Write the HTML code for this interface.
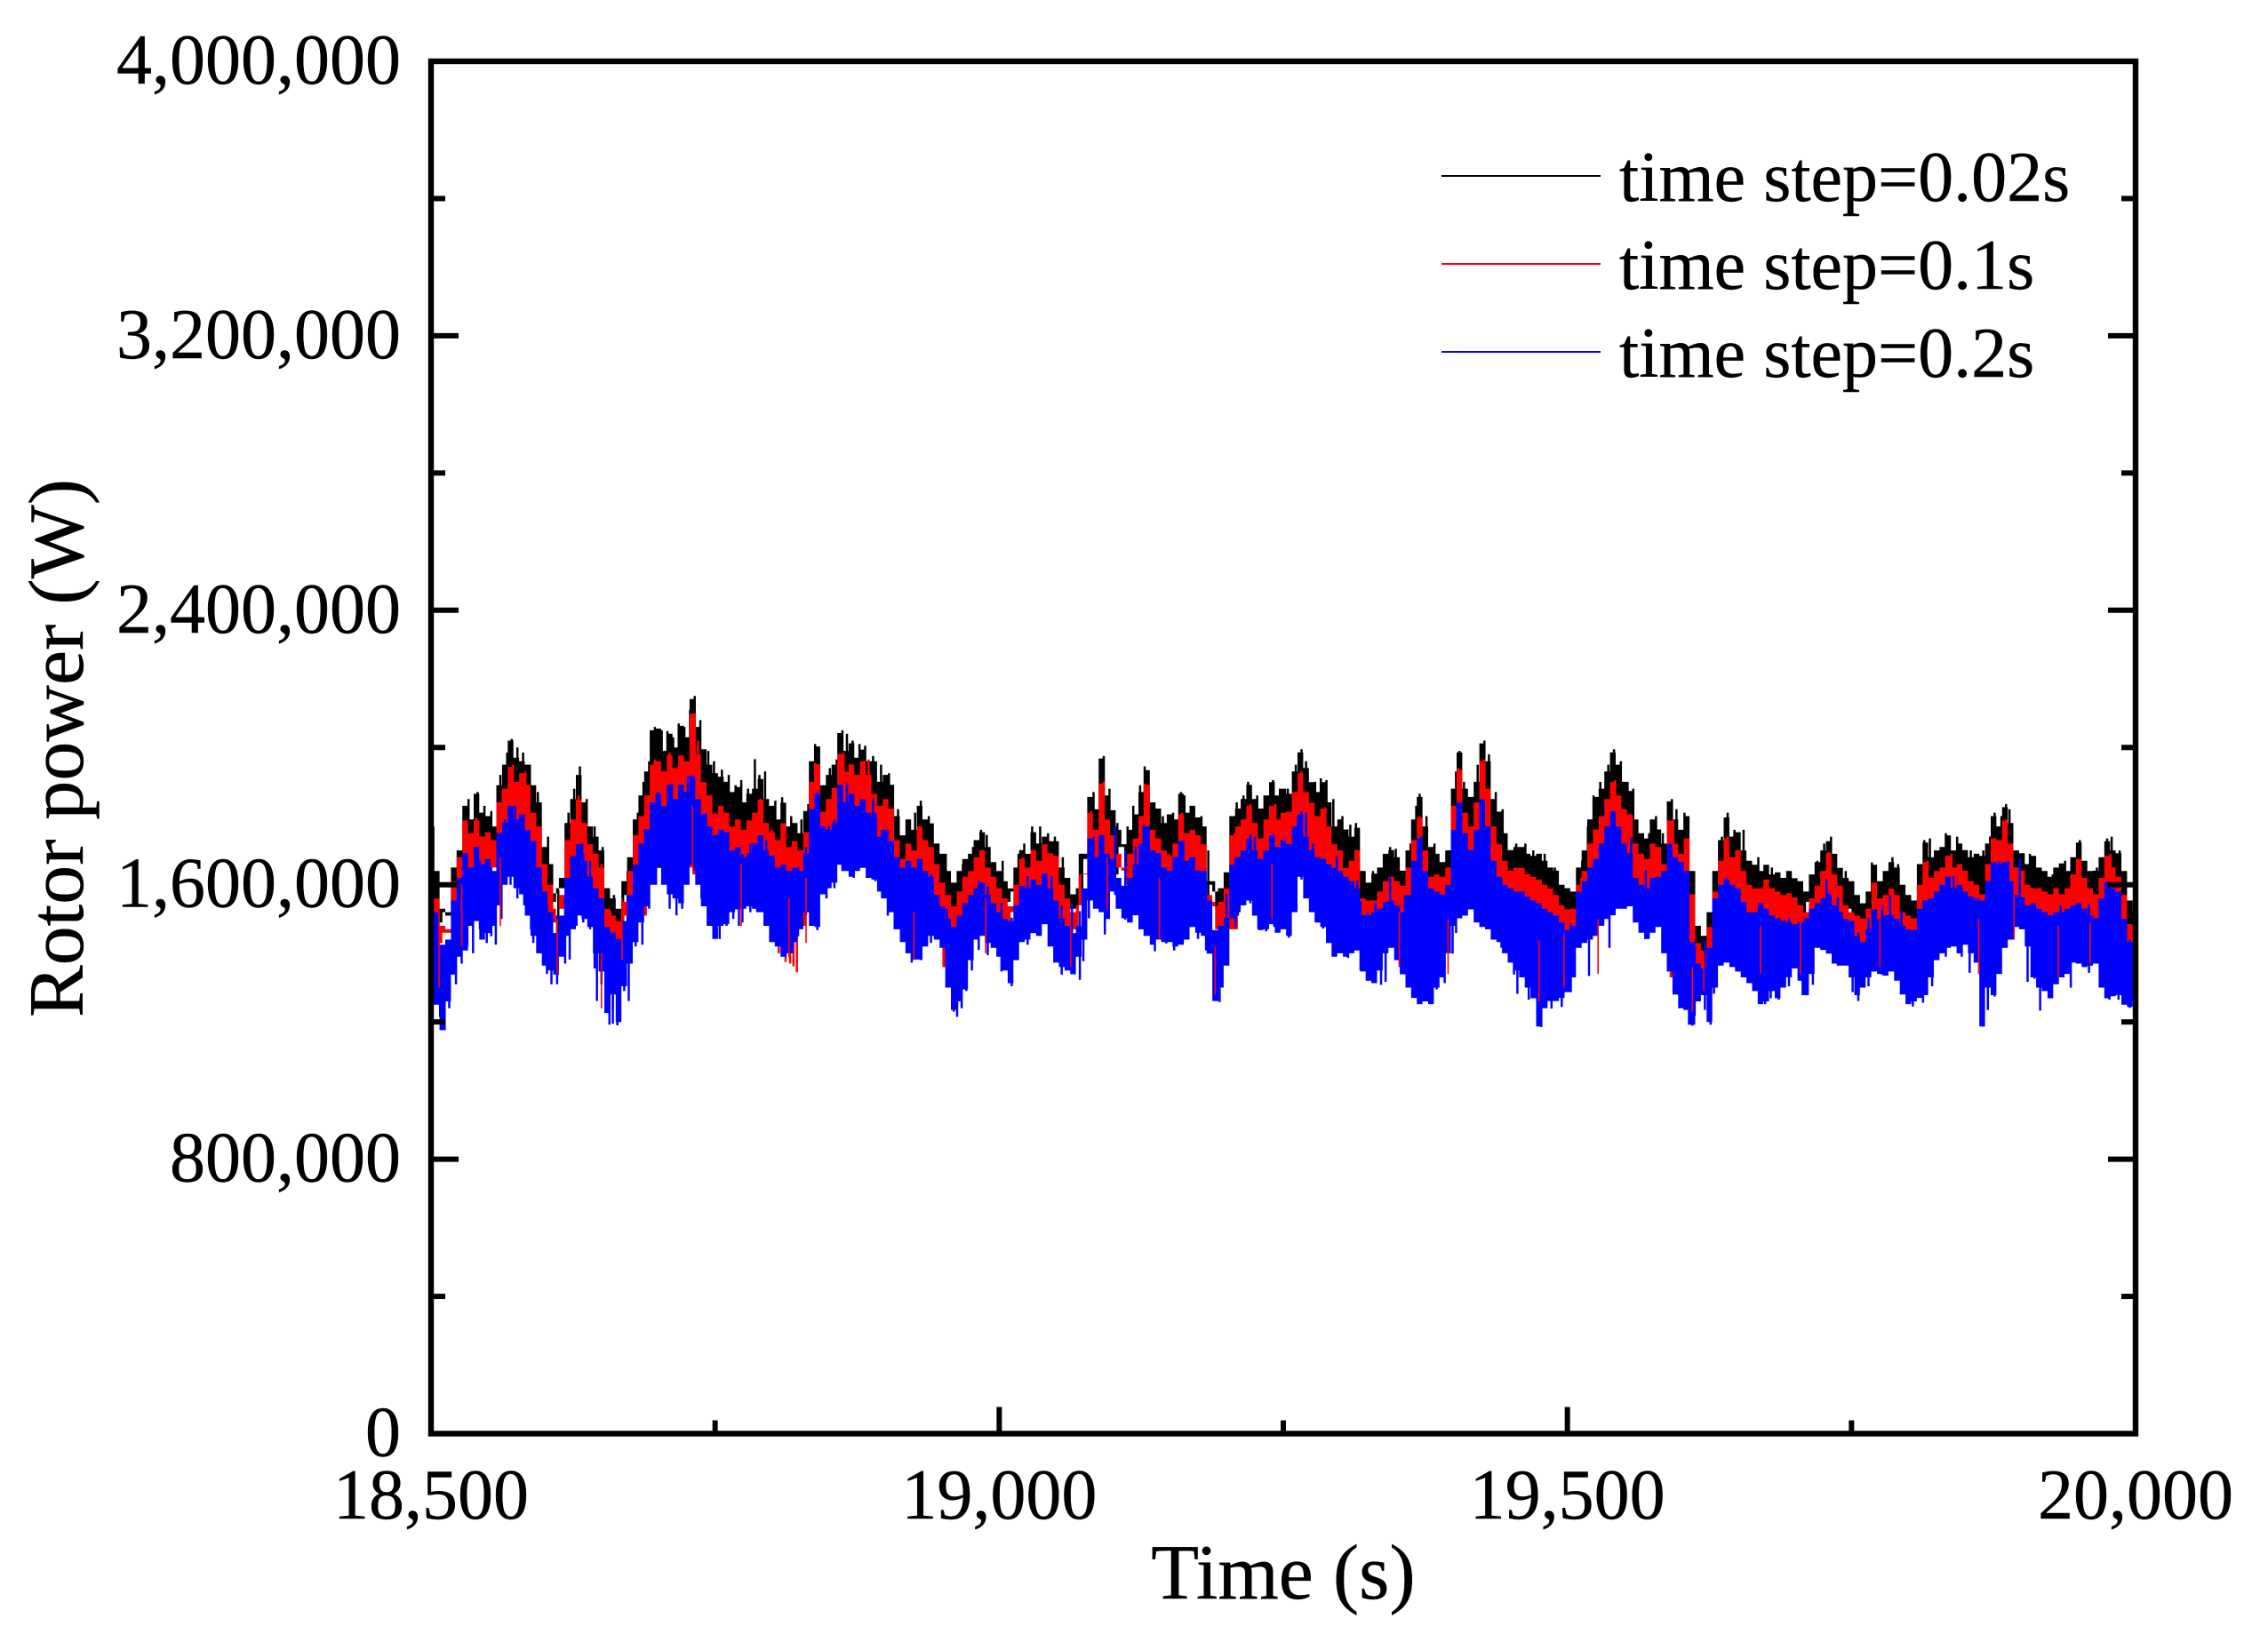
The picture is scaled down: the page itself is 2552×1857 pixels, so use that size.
<!DOCTYPE html>
<html lang="en">
<head>
<meta charset="utf-8">
<title>Rotor power vs time</title>
<style>
html,body{margin:0;padding:0;background:#fff;}
svg{display:block;}
text{font-family:"Liberation Serif","Times New Roman",serif;fill:#000;stroke:#000;stroke-width:.4;}
</style>
</head>
<body>
<svg id="chart" xmlns="http://www.w3.org/2000/svg" width="2552" height="1857" viewBox="0 0 2552 1857">
  <rect x="0" y="0" width="2552" height="1857" fill="#fff"/>
  <defs><clipPath id="plot-clip"><rect x="485" y="69" width="1918" height="1544.5"/></clipPath></defs>
  <g id="series-layer" clip-path="url(#plot-clip)"></g>
  <g id="axes-layer"></g>
  <rect x="485" y="69" width="1918" height="1544.5" fill="none" stroke="#000" stroke-width="6.4"/>
  <g id="labels-layer" font-size="80"></g>
  <text x="1444" y="1799" font-size="88" text-anchor="middle">Time (s)</text>
  <text transform="translate(93,842) rotate(-90)" font-size="88" text-anchor="middle">Rotor power (W)</text>
  <g font-size="80">
    <g>
      <line x1="1622" x2="1801" y1="198" y2="198" stroke="#000" stroke-width="2"/>
      <text x="1822" y="226">time step=0.02s</text>
    </g>
    <g>
      <line x1="1622" x2="1801" y1="297" y2="297" stroke="#f00" stroke-width="2"/>
      <text x="1822" y="325">time step=0.1s</text>
    </g>
    <g>
      <line x1="1622" x2="1801" y1="396" y2="396" stroke="#00f" stroke-width="2"/>
      <text x="1822" y="424">time step=0.2s</text>
    </g>
  </g>
</svg>
<script>
// Envelope values in kW, uniformly spaced over the time range.
const blackMax=[
1760,1640,1530,1510,1650,1700,1830,1790,1865,1810,1800,1770,1890,1950,2020,1970,1960,1950,1890,1840,
1710,1660,1575,1620,1780,1850,1920,1840,1770,1740,1700,1590,1560,1530,1610,1680,1790,1860,1930,2050,
2055,1990,2040,2000,2063,2030,2141,2060,1995,1950,1925,1915,1900,1870,1885,1840,1865,1880,1908,1850,
1830,1790,1839,1770,1780,1750,1815,1960,2003,1890,1920,1950,2042,1990,2012,1970,1994,1960,1960,1900,
1920,1891,1800,1744,1790,1760,1830,1790,1779,1720,1690,1640,1606,1640,1675,1690,1730,1753,1710,1666,
1640,1610,1589,1650,1701,1690,1753,1720,1740,1727,1727,1650,1620,1572,1590,1675,1856,1820,1968,1860,
1817,1760,1718,1760,1805,1870,1934,1840,1822,1780,1805,1790,1865,1810,1830,1796,1770,1600,1580,1590,
1636,1800,1822,1850,1891,1850,1822,1860,1899,1860,1880,1865,1930,1986,1940,1899,1870,1899,1840,1770,
1790,1761,1740,1766,1640,1606,1632,1650,1690,1701,1680,1641,1700,1790,1856,1770,1710,1690,1666,1700,
1880,1986,1880,1856,1900,2012,1960,1850,1813,1750,1701,1710,1710,1690,1684,1690,1670,1650,1641,1600,
1590,1580,1650,1700,1790,1856,1880,1930,1986,1950,1900,1873,1790,1750,1735,1790,1761,1720,1843,1790,
1760,1800,1640,1480,1451,1520,1640,1730,1796,1740,1753,1700,1670,1658,1640,1658,1630,1636,1620,1640,
1619,1610,1580,1630,1666,1700,1727,1690,1649,1620,1610,1570,1546,1580,1658,1610,1640,1666,1650,1600,
1570,1554,1660,1723,1680,1700,1710,1744,1700,1720,1701,1680,1690,1684,1720,1800,1770,1826,1780,1700,
1692,1660,1684,1650,1640,1623,1650,1662,1640,1680,1723,1670,1640,1641,1680,1727,1700,1692,1640,1554,
1520];
const blackMin=[
1490,1520,1630,1710,1730,1550,1590,1570,1410,1570,1770,1710,1690,1690,1680,1610,1590,1650,1770,1790,
1710,1570,1540,1420,1550,1550,1580,1610,1530,1690,1710,1660,1590,1590,1610,1530,1690,1640,1740,1650,
1570,1520,1550,1470,1430,1610,1650,1590,1490,1430,1490,1590,1660,1620,1630,1390,1400,1530,1490,1470,
1510,1550,1530,1470,1520,1470,1490,1570,1530,1560,1590,1490,1510,1520,1460,1430];
const redMax=[
1680,1560,1480,1470,1610,1680,1787,1750,1787,1740,1753,1730,1840,1880,1943,1900,1925,1890,1810,1770,
1660,1600,1530,1570,1730,1790,1848,1780,1718,1690,1650,1530,1510,1494,1550,1640,1744,1800,1860,1950,
1960,1930,1977,1940,1977,1960,2098,1980,1899,1860,1805,1830,1810,1770,1790,1760,1787,1810,1848,1780,
1753,1730,1779,1710,1727,1700,1753,1900,1951,1813,1850,1882,1981,1930,1951,1920,1960,1920,1865,1830,
1850,1822,1730,1675,1720,1700,1770,1730,1710,1660,1606,1570,1537,1580,1623,1640,1680,1701,1650,1623,
1590,1560,1537,1600,1675,1650,1701,1670,1718,1692,1684,1600,1560,1520,1540,1632,1809,1760,1895,1790,
1744,1690,1641,1690,1735,1800,1891,1760,1735,1700,1684,1720,1805,1750,1760,1744,1718,1570,1537,1550,
1589,1744,1770,1790,1830,1780,1735,1790,1830,1790,1810,1813,1870,1925,1870,1839,1800,1822,1770,1718,
1700,1649,1670,1701,1560,1554,1554,1580,1610,1623,1610,1597,1650,1730,1796,1700,1623,1630,1623,1650,
1830,1934,1810,1770,1840,1960,1880,1770,1718,1670,1641,1649,1649,1630,1623,1615,1600,1589,1570,1540,
1528,1530,1600,1640,1720,1761,1800,1850,1899,1860,1820,1805,1720,1690,1675,1720,1710,1660,1787,1720,
1690,1735,1572,1430,1408,1477,1580,1670,1735,1680,1701,1640,1600,1589,1590,1615,1590,1580,1570,1575,
1563,1540,1520,1560,1597,1640,1692,1630,1597,1540,1520,1510,1502,1530,1606,1560,1570,1589,1570,1520,
1510,1502,1600,1666,1620,1640,1650,1684,1650,1660,1641,1610,1600,1572,1660,1735,1730,1787,1720,1650,
1641,1600,1589,1590,1580,1572,1590,1572,1590,1630,1675,1620,1590,1572,1620,1684,1650,1623,1570,1485,
1460];
const redMin=[
1430,1460,1570,1650,1670,1490,1530,1510,1350,1510,1710,1650,1630,1630,1620,1540,1480,1590,1710,1730,
1650,1510,1480,1360,1490,1490,1520,1550,1470,1630,1650,1600,1530,1530,1550,1470,1630,1580,1680,1590,
1510,1460,1490,1410,1370,1550,1590,1530,1430,1370,1430,1530,1600,1560,1570,1330,1340,1470,1430,1410,
1450,1490,1470,1410,1460,1410,1430,1510,1470,1500,1530,1430,1450,1460,1400,1370];
const blueMax=[
1649,1520,1425,1440,1554,1620,1692,1650,1710,1660,1675,1640,1750,1780,1830,1790,1805,1760,1727,1650,
1580,1520,1459,1510,1620,1684,1718,1670,1623,1590,1560,1477,1460,1442,1494,1570,1658,1720,1761,1840,
1865,1830,1891,1850,1891,1870,1917,1850,1805,1770,1744,1760,1753,1700,1710,1680,1692,1720,1744,1700,
1684,1650,1658,1640,1649,1640,1692,1820,1865,1770,1760,1779,1891,1840,1865,1830,1848,1810,1796,1740,
1760,1727,1680,1649,1670,1650,1675,1640,1623,1570,1537,1500,1477,1510,1546,1570,1590,1606,1570,1546,
1520,1500,1494,1540,1597,1590,1615,1600,1632,1589,1554,1500,1480,1459,1480,1589,1735,1680,1744,1690,
1675,1620,1597,1620,1658,1720,1770,1700,1692,1650,1641,1680,1727,1670,1680,1641,1641,1554,1468,1480,
1502,1658,1680,1700,1735,1700,1675,1700,1744,1710,1730,1718,1770,1805,1740,1701,1680,1675,1660,1649,
1640,1623,1610,1589,1511,1511,1520,1530,1550,1554,1540,1520,1570,1670,1735,1640,1589,1580,1571,1600,
1760,1839,1750,1701,1760,1848,1770,1670,1623,1600,1589,1580,1580,1565,1554,1546,1530,1520,1510,1490,
1468,1480,1580,1610,1650,1675,1720,1770,1813,1770,1720,1692,1620,1600,1589,1620,1623,1640,1718,1680,
1666,1640,1433,1370,1356,1416,1560,1600,1615,1600,1589,1550,1520,1520,1546,1530,1510,1502,1495,1490,
1485,1490,1502,1530,1546,1560,1572,1540,1520,1500,1494,1450,1433,1470,1528,1500,1511,1511,1500,1480,
1470,1468,1530,1554,1560,1580,1600,1623,1590,1600,1580,1565,1560,1554,1610,1666,1660,1666,1610,1570,
1563,1540,1546,1530,1520,1511,1520,1520,1530,1540,1546,1530,1510,1502,1560,1606,1590,1580,1500,1433,
1420];
const blueMin=[
1300,1250,1176,1260,1338,1390,1408,1480,1494,1440,1459,1480,1540,1600,1623,1590,1572,1510,1451,1400,
1364,1350,1338,1390,1451,1470,1511,1500,1477,1400,1347,1226,1280,1200,1304,1370,1433,1490,1537,1600,
1649,1600,1572,1560,1546,1600,1658,1600,1537,1480,1442,1480,1485,1520,1528,1530,1537,1530,1520,1480,
1433,1420,1390,1400,1433,1470,1520,1480,1477,1572,1590,1606,1658,1640,1623,1640,1649,1620,1615,1580,
1560,1520,1470,1433,1400,1382,1382,1420,1451,1440,1416,1300,1235,1260,1295,1380,1440,1451,1430,1416,
1390,1350,1313,1380,1433,1440,1459,1451,1485,1420,1373,1360,1350,1339,1390,1440,1554,1530,1520,1500,
1580,1530,1502,1490,1511,1470,1451,1425,1440,1433,1433,1420,1425,1440,1477,1460,1451,1399,1261,1300,
1364,1502,1520,1540,1554,1510,1468,1470,1485,1460,1470,1451,1520,1623,1560,1520,1490,1477,1430,1390,
1400,1390,1400,1408,1347,1320,1313,1350,1400,1416,1380,1339,1300,1270,1252,1260,1252,1300,1330,1400,
1480,1502,1510,1528,1490,1477,1470,1440,1433,1400,1373,1350,1330,1300,1269,1187,1240,1261,1261,1270,
1287,1330,1416,1430,1440,1451,1480,1500,1511,1530,1530,1537,1490,1460,1442,1460,1477,1400,1347,1280,
1240,1235,1192,1260,1278,1200,1300,1364,1373,1360,1347,1330,1313,1290,1252,1260,1290,1269,1300,1330,
1356,1320,1278,1340,1416,1410,1399,1370,1364,1364,1330,1278,1300,1330,1347,1340,1335,1347,1320,1280,
1252,1260,1270,1278,1330,1380,1400,1416,1420,1400,1425,1400,1373,1187,1300,1278,1340,1416,1440,1477,
1470,1420,1330,1300,1290,1269,1310,1330,1340,1373,1370,1360,1364,1370,1300,1269,1275,1278,1250,1244,
1260];
// Individual thin spikes: [time in s, tip value in kW].
const blackPeakSpikes=[
[18502,1770],[18524,1700],[18533,1850],[18541,1870],[18547,1830],[18553,1815],[18561,1920],[18567,1985],[18571,2025],[18576,2000],[18581,1985],[18587,1950],[18594,1870],[18603,1740],[18612,1585],[18621,1810],[18626,1880],[18631,1945],[18637,1850],[18644,1770],[18651,1710],[18661,1570],[18673,1640],[18682,1810],[18687,1900],[18692,1960],[18697,2060],[18703,2050],[18708,2048],[18713,2030],[18718,2070],[18723,2060],[18728,2110],[18732,2150],[18737,2080],[18744,1990],[18749,1960],[18756,1935],[18762,1920],[18768,1890],[18773,1905],[18779,1880],[18785,1966],[18789,1920],[18794,1930],[18803,1845],[18809,1855],[18817,1800],[18826,1790],[18832,1835],[18838,2010],[18841,1990],[18851,1940],[18857,1965],[18862,2050],[18866,2040],[18871,2020],[18877,2010],[18882,2005],[18889,1975],[18896,1950],[18903,1925],[18911,1820],[18926,1810],[18931,1845],[18938,1800],[18946,1720],[18953,1690],[18968,1660],[18977,1710],[18984,1760],[18989,1745],[19003,1670],[19017,1690],[19022,1720],[19029,1770],[19036,1770],[19043,1750],[19049,1740],[19056,1680],[19073,1690],[19079,1830],[19083,1870],[19089,1960],[19092,1975],[19097,1880],[19104,1780],[19113,1770],[19118,1830],[19124,1890],[19128,1945],[19131,1930],[19136,1840],[19144,1800],[19153,1810],[19160,1870],[19163,1860],[19171,1820],[19178,1800],[19184,1700],[19204,1790],[19209,1840],[19215,1860],[19219,1900],[19227,1860],[19235,1850],[19241,1905],[19247,1880],[19254,1880],[19261,1950],[19266,1995],[19270,1960],[19278,1900],[19283,1910],[19288,1905],[19294,1850],[19302,1800],[19309,1775],[19314,1780],[19329,1640],[19344,1710],[19349,1705],[19362,1720],[19367,1830],[19370,1865],[19376,1800],[19383,1720],[19396,1700],[19402,1930],[19405,1990],[19409,1900],[19421,1950],[19427,2020],[19431,1980],[19437,1870],[19443,1820],[19455,1720],[19463,1720],[19470,1700],[19480,1690],[19489,1650],[19513,1670],[19518,1770],[19523,1860],[19529,1900],[19536,1950],[19541,1995],[19547,1960],[19553,1900],[19558,1880],[19572,1750],[19578,1800],[19584,1750],[19592,1850],[19596,1820],[19603,1810],[19636,1740],[19641,1810],[19647,1760],[19655,1760],[19668,1680],[19680,1650],[19695,1630],[19720,1670],[19726,1720],[19732,1740],[19745,1640],[19768,1665],[19786,1680],[19791,1660],[19814,1730],[19819,1735],[19833,1750],[19843,1740],[19855,1700],[19866,1700],[19872,1740],[19876,1810],[19882,1800],[19886,1835],[19889,1820],[19907,1690],[19927,1630],[19938,1670],[19951,1730],[19966,1650],[19975,1735],[19979,1740],[19986,1700]];
const redPeakSpikes=[
[18540,1795],[18563,1875],[18572,1950],[18583,1930],[18590,1800],[18630,1860],[18650,1660],[18658,1525],[18697,1965],[18710,1985],[18732,2100],[18735,2020],[18750,1810],[18790,1850],[18800,1760],[18838,1955],[18863,1985],[18885,1965],[19021,1680],[19081,1815],[19092,1900],[19128,1895],[19149,1690],[19161,1810],[19207,1750],[19221,1835],[19243,1835],[19266,1930],[19287,1825],[19370,1800],[19404,1940],[19427,1965],[19512,1620],[19542,1905],[19593,1790],[19641,1740],[19730,1695],[19817,1670],[19838,1690],[19886,1790],[19978,1690]];
const redLowSpikes=[
[18806,1400],[18812,1375],[18816,1370],[18819,1362],[18822,1345],[18505,1290],[18660,1235],[19207,1470],[19604,1250],[19770,1390]];
const blueHighSpikes=[
[18565,1790],[18574,1830],[18633,1720],[18700,1870],[18712,1895],[18726,1917],[18730,1890],[18742,1810],[18840,1870],[18850,1770],[18866,1895],[18889,1850],[19083,1740],[19091,1745],[19127,1775],[19162,1730],[19210,1660],[19225,1740],[19241,1748],[19263,1800],[19270,1810],[19371,1740],[19403,1840],[19405,1800],[19425,1850],[19540,1815],[19590,1720],[19640,1620],[19730,1575],[19815,1555],[19840,1625],[19880,1668],[19888,1670],[19975,1610]];
const blueLowSpikes=[
[18503,1250],[18508,1215],[18512,1176],[18516,1240],[18522,1310],[18527,1370],[18532,1420],[18537,1400],[18543,1470],[18549,1430],[18553,1450],[18557,1425],[18562,1500],[18570,1600],[18576,1560],[18582,1540],[18588,1470],[18590,1430],[18597,1400],[18602,1340],[18606,1310],[18611,1310],[18618,1370],[18622,1382],[18628,1480],[18634,1490],[18640,1470],[18644,1356],[18646,1261],[18650,1310],[18654,1230],[18657,1192],[18660,1195],[18664,1190],[18670,1290],[18674,1261],[18680,1420],[18686,1425],[18692,1530],[18698,1600],[18710,1530],[18716,1511],[18721,1530],[18732,1640],[18738,1560],[18744,1530],[18750,1445],[18754,1442],[18760,1480],[18766,1500],[18771,1480],[18774,1490],[18781,1520],[18787,1520],[18795,1530],[18801,1470],[18806,1430],[18812,1390],[18818,1400],[18823,1450],[18830,1510],[18836,1480],[18840,1468],[18848,1560],[18855,1590],[18862,1640],[18872,1620],[18880,1650],[18891,1610],[18897,1560],[18902,1510],[18908,1470],[18915,1450],[18923,1373],[18931,1380],[18935,1430],[18940,1430],[18954,1330],[18960,1230],[18963,1215],[18967,1240],[18971,1290],[18976,1350],[18982,1410],[18990,1395],[19002,1347],[19011,1304],[19025,1425],
[19046,1425],[19055,1338],[19064,1347],[19071,1323],[19074,1377],[19079,1502],[19093,1455],[19102,1570],[19111,1498],[19120,1511],[19128,1451],[19137,1406],[19147,1429],[19154,1408],[19160,1433],[19168,1477],[19175,1442],[19182,1408],[19192,1261],[19194,1258],[19200,1373],[19208,1477],[19221,1546],[19228,1472],[19235,1464],[19242,1477],[19255,1446],[19266,1615],[19276,1520],[19285,1472],[19297,1485],[19307,1386],[19315,1412],[19318,1351],[19324,1320],[19331,1347],[19336,1308],[19340,1317],[19344,1421],[19357,1369],[19364,1317],[19370,1274],[19380,1252],[19385,1295],[19392,1313],[19399,1399],[19402,1459],[19420,1524],[19432,1472],[19442,1416],[19453,1338],[19456,1282],[19466,1265],[19477,1185],[19486,1239],[19495,1244],[19503,1287],[19519,1334],[19537,1416],[19556,1537],[19569,1442],
[19591,1347],[19598,1278],[19603,1235],[19607,1192],[19610,1189],[19612,1218],[19621,1235],[19626,1192],[19629,1282],[19637,1373],[19651,1347],[19663,1313],[19674,1252],[19679,1269],[19686,1265],[19695,1304],[19707,1278],[19716,1308],[19728,1416],[19738,1364],[19751,1287],[19756,1261],[19765,1304],[19777,1338],[19784,1369],[19794,1325],[19804,1245],[19813,1256],[19821,1304],[19833,1390],[19847,1390],[19854,1343],[19866,1187],[19870,1235],[19876,1274],[19882,1416],[19898,1477],[19905,1317],[19911,1326],[19916,1233],[19925,1269],[19934,1339],[19943,1300],[19959,1343],[19977,1265],[19985,1265],[19995,1241]];
// Short stretches of the red series visible through gaps in the blue: [time in s, low kW, high kW].
const redGapLines=[
[18507,1300,1520],[18527,1420,1600],[18561,1480,1680],[18611,1340,1500],[18650,1240,1400],[18668,1380,1560],[18730,1650,1830],[18773,1480,1660],[18815,1390,1560],[18830,1430,1620],[18925,1380,1520],[18988,1400,1560],[19063,1360,1480],[19095,1530,1680],[19141,1440,1620],[19190,1280,1420],[19240,1500,1660],[19352,1360,1520],[19395,1340,1500],[19475,1260,1440],[19497,1300,1460],[19527,1340,1500],[19610,1230,1360],[19620,1290,1400],[19670,1340,1480],[19705,1340,1500],[19775,1360,1500],[19862,1340,1500],[19893,1440,1600],[19932,1330,1480],[19960,1370,1490]];
const xTickValues=[18500,18750,19000,19250,19500,19750,20000];
const xTickLabels=["18,500","","19,000","","19,500","","20,000"];
const yTickValues=[0,400000,800000,1200000,1600000,2000000,2400000,2800000,3200000,3600000,4000000];
const yTickLabels=["0","","800,000","","1,600,000","","2,400,000","","3,200,000","","4,000,000"];
const xDomain=[18500,20000];
const yDomain=[0,4000000];

const NS='http://www.w3.org/2000/svg';
const plot={left:485,right:2403,top:69,bottom:1613.5};
function xScale(t){return plot.left+(t-xDomain[0])/(xDomain[1]-xDomain[0])*(plot.right-plot.left);}
function yScale(w){return plot.bottom-(w-yDomain[0])/(yDomain[1]-yDomain[0])*(plot.bottom-plot.top);}
function kw(v){return yScale(v*1000);}
function envelopePath(maxArr,minArr){
  const span=xDomain[1]-xDomain[0];
  let d='';
  const n=maxArr.length,step=span/(n-1);
  for(let i=0;i<n;i++){
    const t=xDomain[0]+step*i;
    d+=(i?'L':'M')+xScale(t-step/2).toFixed(1)+' '+kw(maxArr[i]).toFixed(1)+'H'+xScale(t+step/2).toFixed(1);
  }
  const m=minArr.length,stepLow=span/(m-1);
  for(let i=m-1;i>=0;i--){
    const t=xDomain[0]+stepLow*i;
    d+='L'+xScale(t+stepLow/2).toFixed(1)+' '+kw(minArr[i]).toFixed(1)+'H'+xScale(t-stepLow/2).toFixed(1);
  }
  return d+'Z';
}
function spikePath(spikes,reach){
  let d='';
  spikes.forEach(function(s){
    const x=xScale(s[0]).toFixed(1);
    d+='M'+x+' '+kw(s[1]).toFixed(1)+'V'+kw(s[1]+reach).toFixed(1);
  });
  return d;
}
function gapPath(lines){
  let d='';
  lines.forEach(function(s){
    const x=xScale(s[0]).toFixed(1);
    d+='M'+x+' '+kw(s[1]).toFixed(1)+'V'+kw(s[2]).toFixed(1);
  });
  return d;
}
const seriesLayer=document.getElementById('series-layer');
const axesLayer=document.getElementById('axes-layer');
const labelsLayer=document.getElementById('labels-layer');

const blackPath=document.createElementNS(NS,'path');


blackPath.setAttribute('d',envelopePath(blackMax,blackMin));
blackPath.setAttribute('fill','#000');
seriesLayer.appendChild(blackPath);

const blackSpikes=document.createElementNS(NS,'path');


blackSpikes.setAttribute('d',spikePath(blackPeakSpikes,-150));
blackSpikes.setAttribute('stroke','#000');
blackSpikes.setAttribute('stroke-width','2.5');
blackSpikes.setAttribute('fill','none');
seriesLayer.appendChild(blackSpikes);

const redPath=document.createElementNS(NS,'path');


redPath.setAttribute('d',envelopePath(redMax,redMin));
redPath.setAttribute('fill','#f00');
seriesLayer.appendChild(redPath);

const redSpikes=document.createElementNS(NS,'path');


redSpikes.setAttribute('d',spikePath(redPeakSpikes,-150));
redSpikes.setAttribute('stroke','#f00');
redSpikes.setAttribute('stroke-width','2.5');
redSpikes.setAttribute('fill','none');
seriesLayer.appendChild(redSpikes);

const redLows=document.createElementNS(NS,'path');


redLows.setAttribute('d',spikePath(redLowSpikes,150));
redLows.setAttribute('stroke','#f00');
redLows.setAttribute('stroke-width','2.5');
redLows.setAttribute('fill','none');
seriesLayer.appendChild(redLows);

const bluePath=document.createElementNS(NS,'path');


bluePath.setAttribute('d',envelopePath(blueMax,blueMin));
bluePath.setAttribute('fill','#00f');
seriesLayer.appendChild(bluePath);

const blueHighs=document.createElementNS(NS,'path');


blueHighs.setAttribute('d',spikePath(blueHighSpikes,-150));
blueHighs.setAttribute('stroke','#00f');
blueHighs.setAttribute('stroke-width','2.5');
blueHighs.setAttribute('fill','none');
seriesLayer.appendChild(blueHighs);

const blueLows=document.createElementNS(NS,'path');


blueLows.setAttribute('d',spikePath(blueLowSpikes,200));
blueLows.setAttribute('stroke','#00f');
blueLows.setAttribute('stroke-width','2.5');
blueLows.setAttribute('fill','none');
seriesLayer.appendChild(blueLows);

const redGaps=document.createElementNS(NS,'path');


redGaps.setAttribute('d',gapPath(redGapLines));
redGaps.setAttribute('stroke','#f00');
redGaps.setAttribute('stroke-width','1.6');
redGaps.setAttribute('fill','none');
seriesLayer.appendChild(redGaps);

yTickValues.forEach(function(v,i){
  const major=yTickLabels[i]!=='';
  const len=major?31:16;
  const y=yScale(v);
  const left=document.createElementNS(NS,'line');
  
  
  left.setAttribute('x1',plot.left);
  left.setAttribute('x2',plot.left+len);
  left.setAttribute('y1',y);
  left.setAttribute('y2',y);
  left.setAttribute('stroke','#000');
  left.setAttribute('stroke-width','6');
  axesLayer.appendChild(left);
  const right=document.createElementNS(NS,'line');
  
  
  right.setAttribute('x1',plot.right);
  right.setAttribute('x2',plot.right-len);
  right.setAttribute('y1',y);
  right.setAttribute('y2',y);
  right.setAttribute('stroke','#000');
  right.setAttribute('stroke-width','6');
  axesLayer.appendChild(right);
  if(major){
    const label=document.createElementNS(NS,'text');
    
    
    label.setAttribute('x',451);
    label.setAttribute('y',y+25);
    label.setAttribute('text-anchor','end');
    label.textContent=yTickLabels[i];
    labelsLayer.appendChild(label);
  }
});
xTickValues.forEach(function(v,i){
  const major=xTickLabels[i]!=='';
  const len=major?30:15;
  const x=xScale(v);
  const tick=document.createElementNS(NS,'line');
  
  
  tick.setAttribute('x1',x);
  tick.setAttribute('x2',x);
  tick.setAttribute('y1',plot.bottom);
  tick.setAttribute('y2',plot.bottom-len);
  tick.setAttribute('stroke','#000');
  tick.setAttribute('stroke-width','6');
  axesLayer.appendChild(tick);
  if(major){
    const label=document.createElementNS(NS,'text');
    
    
    label.setAttribute('x',x);
    label.setAttribute('y',1709);
    label.setAttribute('text-anchor','middle');
    label.textContent=xTickLabels[i];
    labelsLayer.appendChild(label);
  }
});
</script>
</body>
</html>
